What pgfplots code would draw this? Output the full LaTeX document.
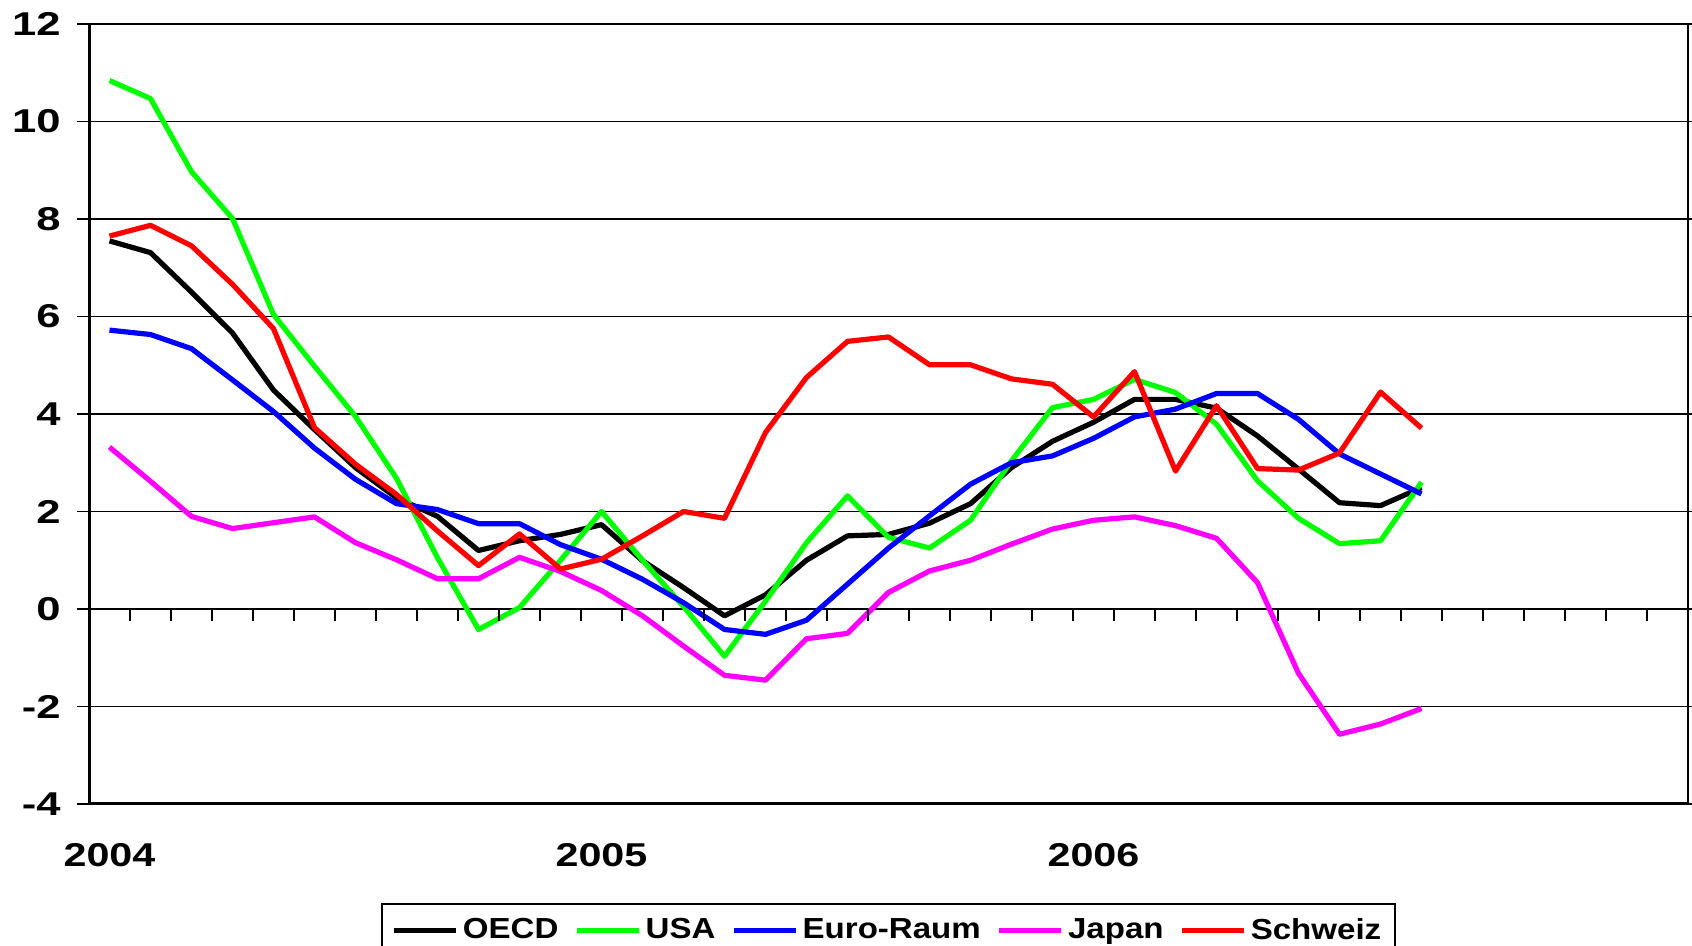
\documentclass[border=0pt]{standalone}
\usepackage{fontspec}
\setmainfont{Liberation Sans}
\usepackage{graphicx}
\usepackage{pgfplots}
\pgfplotsset{compat=1.18}
\newcommand{\sx}[1]{\scalebox{1.25}[1]{#1}}
\newcommand{\yx}[1]{\scalebox{1.32}[1]{#1}}
\newcommand{\lx}[1]{\scalebox{1.14}[1]{#1}}
\definecolor{cgreen}{RGB}{0,255,0}
\definecolor{cblue}{RGB}{0,0,255}
\definecolor{cmag}{RGB}{255,0,255}
\definecolor{cred}{RGB}{255,0,0}
\begin{document}
\begin{tikzpicture}
\path[use as bounding box] (-44.5pt,-71pt) rectangle (801.5pt,402pt);
\begin{axis}[
  at={(0,0)}, anchor=south west,
  width=799.5pt, height=390pt, scale only axis,
  xmin=-0.5, xmax=38.5, ymin=-4, ymax=12,
  ytick={-4,-2,...,12},
  ymajorgrids, grid style={black, line width=0.8pt},
  axis line style={line width=1pt},
  tick align=outside, major tick length=6pt,
  ytick style={line width=0.8pt, black},
  xtick={0,12,24},
  xticklabels={{\sx{2004}},{\sx{2005}},{\sx{2006}}},
  xtick style={draw=none},
  xticklabel style={font=\fontsize{16.5}{19}\selectfont\bfseries, anchor=north, inner sep=0pt, yshift=-13.5pt},
  yticklabel={\yx{\pgfmathprintnumber[assume math mode=true]{\tick}}},
  yticklabel style={font=\fontsize{16.5}{19}\selectfont\bfseries, anchor=east, inner sep=0pt, xshift=-8pt},
  every axis plot/.append style={line width=2.6pt, line join=round, mark=none},
  legend columns=5,
  legend style={at={(0.5,-0.127)}, anchor=north, draw=black, line width=1.2pt,
    font=\fontsize{14.5}{17}\selectfont\bfseries, inner xsep=5pt, inner ysep=5pt,
    /tikz/every even column/.append style={column sep=6pt}},
  legend image code/.code={\draw[#1, line width=2.6pt] (0pt,0pt) -- (31pt,0pt);},
]
\addplot[black] coordinates {(0,7.55)(1,7.31)(2,6.5)(3,5.66)(4,4.49)(5,3.68)(6,2.9)(7,2.28)(8,1.9)(9,1.2)(10,1.4)(11,1.53)(12,1.73)(13,0.99)(14,0.44)(15,-0.14)(16,0.29)(17,1.0)(18,1.5)(19,1.53)(20,1.76)(21,2.16)(22,2.9)(23,3.44)(24,3.83)(25,4.3)(26,4.3)(27,4.12)(28,3.55)(29,2.87)(30,2.18)(31,2.12)(32,2.49)};
\addlegendentry{\lx{OECD}\hspace{8.6pt}}
\addplot[cgreen] coordinates {(0,10.84)(1,10.47)(2,8.97)(3,8.01)(4,6.04)(5,4.98)(6,3.95)(7,2.68)(8,1.05)(9,-0.42)(10,0.03)(11,1.0)(12,2.0)(13,1.0)(14,0.05)(15,-0.97)(16,0.16)(17,1.36)(18,2.32)(19,1.47)(20,1.25)(21,1.82)(22,3.04)(23,4.13)(24,4.3)(25,4.71)(26,4.44)(27,3.79)(28,2.63)(29,1.86)(30,1.34)(31,1.4)(32,2.6)};
\addlegendentry{\lx{USA}}
\addplot[cblue] coordinates {(0,5.72)(1,5.63)(2,5.34)(3,4.7)(4,4.05)(5,3.3)(6,2.66)(7,2.16)(8,2.04)(9,1.75)(10,1.75)(11,1.32)(12,1.02)(13,0.61)(14,0.13)(15,-0.42)(16,-0.52)(17,-0.23)(18,0.51)(19,1.25)(20,1.91)(21,2.56)(22,3.0)(23,3.14)(24,3.5)(25,3.94)(26,4.1)(27,4.42)(28,4.42)(29,3.89)(30,3.18)(31,2.77)(32,2.36)};
\addlegendentry{\lx{Euro-Raum}}
\addplot[cmag] coordinates {(0,3.32)(1,2.62)(2,1.9)(3,1.65)(4,1.77)(5,1.89)(6,1.36)(7,1.01)(8,0.62)(9,0.62)(10,1.06)(11,0.77)(12,0.38)(13,-0.14)(14,-0.76)(15,-1.36)(16,-1.46)(17,-0.61)(18,-0.5)(19,0.34)(20,0.78)(21,1.0)(22,1.33)(23,1.64)(24,1.82)(25,1.89)(26,1.71)(27,1.45)(28,0.54)(29,-1.32)(30,-2.57)(31,-2.36)(32,-2.04)};
\addlegendentry{\lx{Japan}}
\addplot[cred] coordinates {(0,7.65)(1,7.87)(2,7.45)(3,6.66)(4,5.75)(5,3.72)(6,2.97)(7,2.35)(8,1.6)(9,0.89)(10,1.54)(11,0.82)(12,1.02)(13,1.5)(14,2.0)(15,1.86)(16,3.62)(17,4.75)(18,5.49)(19,5.58)(20,5.01)(21,5.01)(22,4.72)(23,4.61)(24,3.94)(25,4.87)(26,2.83)(27,4.17)(28,2.88)(29,2.85)(30,3.2)(31,4.45)(32,3.71)};
\addlegendentry{\lx{Schweiz}}
\pgfplotsinvokeforeach{0,...,37}{\draw[line width=1pt] (axis cs:#1.5,0) -- ([yshift=-6pt]axis cs:#1.5,0);}
\draw[line width=1.6pt] (rel axis cs:0,0) -- (rel axis cs:0,1);
\draw[line width=1.6pt] (rel axis cs:0,0) -- (rel axis cs:1,0);
\end{axis}
\end{tikzpicture}
\end{document}
